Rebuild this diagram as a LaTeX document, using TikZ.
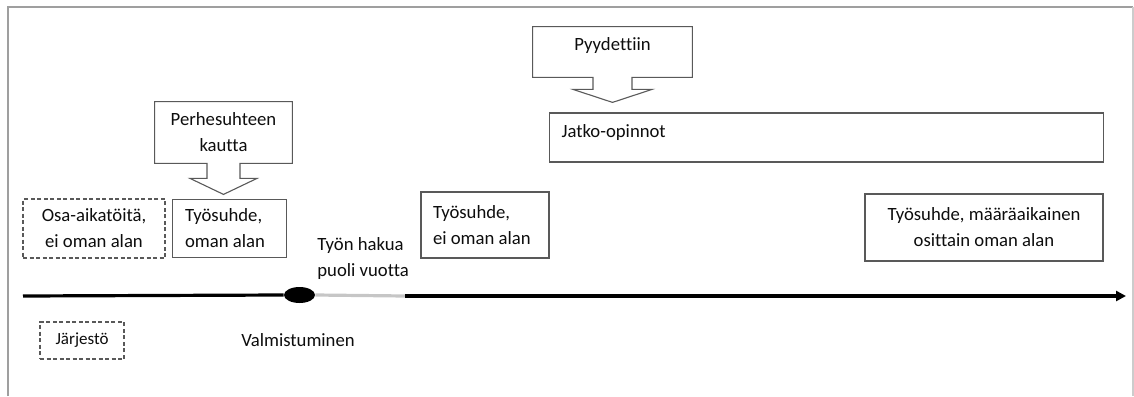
\documentclass[tikz,border=0pt]{standalone}
\usepackage{fontspec}
\setmainfont{Carlito}[Ligatures=NoCommon]
\usetikzlibrary{positioning, calc, arrows.meta, shapes.geometric}

\begin{document}
\begin{tikzpicture}[x=1pt, y=-1pt, thick,
    every node/.style={font=\fontsize{18.7}{26}\selectfont, text=black!95},
    stagebox/.style={draw=black!65, line width=1.1pt, rectangle, inner xsep=12pt, inner ysep=0pt},
    dashbox/.style={stagebox, dash pattern=on 4pt off 2.5pt},
    calloutline/.style={draw=black!65, line width=1.1pt, line join=miter},
    timeline/.style={line width=3.2pt}]

    \useasboundingbox (0,0) rectangle (1134,396);

    % --- FRAME ---
    \draw[gray!75, line width=1.2pt] (8,396) -- (8,7) -- (1133,7);
    \draw[gray!40, line width=1.2pt] (1133,7) -- (1133,396);

    % --- CALLOUTS (top) ---
    \node (perh) [minimum width=137pt, minimum height=61pt, align=flush center, inner sep=0pt] at (223.5,132.5) {Perhesuhteen\\kautta};
    \draw[calloutline] ($(perh.south)+(-16.5,0)$) -- (perh.south west) -- (perh.north west) -- (perh.north east) -- (perh.south east)
        -- ($(perh.south)+(16.5,0)$) -- ++(0,15) -- ++(17,0) -- ($(perh.south)+(0,31)$) -- ($(perh.south)+(-33.5,15)$) -- ++(17,0) -- cycle;

    \node (pyyd) [minimum width=159pt, minimum height=50pt, inner sep=0pt, text height=10.5pt, text depth=13.5pt] at (612.5,52) {Pyydettiin};
    \draw[calloutline] ($(pyyd.south)+(-19.5,0)$) -- (pyyd.south west) -- (pyyd.north west) -- (pyyd.north east) -- (pyyd.south east)
        -- ($(pyyd.south)+(19.5,0)$) -- ++(0,12) -- ++(20,0) -- ($(pyyd.south)+(0,25)$) -- ($(pyyd.south)+(-39.5,12)$) -- ++(20,0) -- cycle;

    % --- STAGES ---
    \node (osa) [dashbox, minimum width=142pt, minimum height=59pt, align=flush center, inner xsep=0pt] at (94,228.5) {Osa-aikatöitä,\\ei oman alan};
    \node (tyo1) [stagebox, right=6pt of osa, text width=88pt, minimum height=58pt, align=flush left, inner xsep=13pt] {Työsuhde,\\oman alan};
    \node (tyo2) [stagebox, text width=104pt, minimum height=66pt, align=flush left] at (485,225) {Työsuhde,\\ei oman alan};
    \node (jatko) [stagebox, anchor=west, text width=530pt, minimum height=49pt, align=flush left, text height=10pt, text depth=10pt] at (549,137.5) {Jatko-opinnot};
    \node (maara) [stagebox, minimum width=238pt, minimum height=67pt, align=flush center] at (984,227.5) {Työsuhde, määräaikainen\\osittain oman alan};
    \node (haku) [anchor=west, align=flush left, inner sep=0pt] at (317,259) {Työn hakua\\puoli vuotta};

    % --- TIMELINE ---
    \coordinate (tstart) at (23,296);
    \coordinate (hakuend) at (405,296);
    \coordinate (tend) at (1126,296);
    \node (grad) [ellipse, fill=black, minimum width=31pt, minimum height=16pt, inner sep=0pt] at (299.5,295) {};
    \draw[timeline] (tstart) -- (grad.west);
    \draw[timeline, gray!45] (grad.east) -- (hakuend);
    \draw[timeline, -{Triangle[length=10pt, width=10pt]}] (hakuend) -- (tend);

    % --- BELOW ---
    \node (jarj) [dashbox, minimum width=84pt, minimum height=37pt, font=\fontsize{17}{20}\selectfont] at (82,340.5) {Järjestö};
    \node (valm) [anchor=base] at (298,346) {Valmistuminen};

\end{tikzpicture}
\end{document}
